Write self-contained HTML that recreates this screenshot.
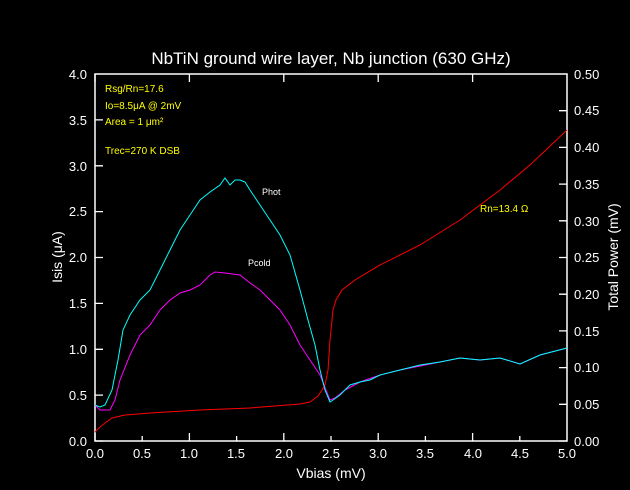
<!DOCTYPE html>
<html><head><style>body{margin:0;background:#000}svg{display:block}</style></head><body>
<svg width="630" height="490" xmlns="http://www.w3.org/2000/svg" font-family="Liberation Sans, sans-serif">
<rect width="630" height="490" fill="#000"/>
<text x="331" y="64" fill="#fff" font-size="17" text-anchor="middle">NbTiN ground wire layer, Nb junction (630 GHz)</text>
<rect x="95" y="74" width="472" height="367" fill="none" stroke="#fff" stroke-width="1.5"/>
<g stroke="#fff" stroke-width="1.3">
<path d="M95,441v-8M189.4,441v-8M283.8,441v-8M378.2,441v-8M472.6,441v-8M142.2,441v-5M236.6,441v-5M331,441v-5M425.4,441v-5M519.8,441v-5
M95,74v8M189.4,74v8M283.8,74v8M378.2,74v8M472.6,74v8
M95,441h8M95,395.1h8M95,349.3h8M95,303.4h8M95,257.5h8M95,211.6h8M95,165.8h8M95,119.9h8
M567,441h-8M567,404.3h-8M567,367.6h-8M567,330.9h-8M567,294.2h-8M567,257.5h-8M567,220.8h-8M567,184.1h-8M567,147.4h-8M567,110.7h-8"/>
</g>
<g fill="#fff" font-size="13" text-anchor="end">
<text x="87" y="446">0.0</text><text x="87" y="400">0.5</text><text x="87" y="354">1.0</text><text x="87" y="308">1.5</text><text x="87" y="262">2.0</text><text x="87" y="216">2.5</text><text x="87" y="171">3.0</text><text x="87" y="125">3.5</text><text x="87" y="79">4.0</text>
</g>
<g fill="#fff" font-size="13" text-anchor="start">
<text x="574" y="446">0.00</text><text x="574" y="409">0.05</text><text x="574" y="372">0.10</text><text x="574" y="336">0.15</text><text x="574" y="299">0.20</text><text x="574" y="262">0.25</text><text x="574" y="226">0.30</text><text x="574" y="189">0.35</text><text x="574" y="152">0.40</text><text x="574" y="115">0.45</text><text x="574" y="79">0.50</text>
</g>
<g fill="#fff" font-size="13" text-anchor="middle">
<text x="95" y="458">0.0</text><text x="142" y="458">0.5</text><text x="189" y="458">1.0</text><text x="236" y="458">1.5</text><text x="284" y="458">2.0</text><text x="331" y="458">2.5</text><text x="378" y="458">3.0</text><text x="425" y="458">3.5</text><text x="473" y="458">4.0</text><text x="520" y="458">4.5</text><text x="567" y="458">5.0</text>
<text x="331" y="478" font-size="14">Vbias (mV)</text>
</g>
<text transform="translate(62,257) rotate(-90)" fill="#fff" font-size="14" text-anchor="middle">Isis (μA)</text>
<text transform="translate(618,257) rotate(-90)" fill="#fff" font-size="14" text-anchor="middle">Total Power (mV)</text>
<g fill="#ff0" font-size="10">
<text x="105" y="92">Rsg/Rn=17.6</text><text x="105" y="109">Io=8.5μA @ 2mV</text><text x="105" y="125">Area = 1 μm²</text><text x="105" y="154">Trec=270 K DSB</text>
<text x="480" y="212">Rn=13.4 Ω</text>
</g>
<g fill="#fff" font-size="9"><text x="262" y="195">Phot</text><text x="248" y="266">Pcold</text></g>
<polyline fill="none" stroke="#f00" stroke-width="1" points="95,432 100,427 105,423 112,418 125,415 150,413 200,410 250,408 300,404 310,402 318,396 322,390 325,385 328,370 330,340 333,310 336,300 342,290 355,280 380,265 420,245 460,220 500,190 530,165 567,130"/>
<polyline fill="none" stroke="#f0f" stroke-width="1" points="95,405 100,410 110,410 115,400 120,380 130,355 140,335 150,325 160,310 170,300 180,293 190,290 200,285 205,280 210,275 215,272 225,273 240,275 250,283 260,290 270,300 280,310 290,325 300,345 310,360 320,375 330,400 335,398 345,390 360,382 380,375 400,370 420,366 440,362 460,358 480,360 500,358 520,364 540,355 567,348"/>
<polyline fill="none" stroke="#0ff" stroke-width="1" points="95,405 100,407 105,405 112,390 118,360 123,330 130,315 140,300 150,290 160,270 170,250 180,230 190,215 200,200 210,192 220,185 225,178 230,185 235,180 240,180 245,182 250,190 260,205 270,220 280,235 290,255 300,290 308,320 315,345 320,370 325,390 330,402 333,400 340,395 350,385 360,382 370,380 380,375 400,370 420,365 440,362 460,358 480,360 500,358 520,364 540,355 567,348"/>
</svg>
</body></html>
